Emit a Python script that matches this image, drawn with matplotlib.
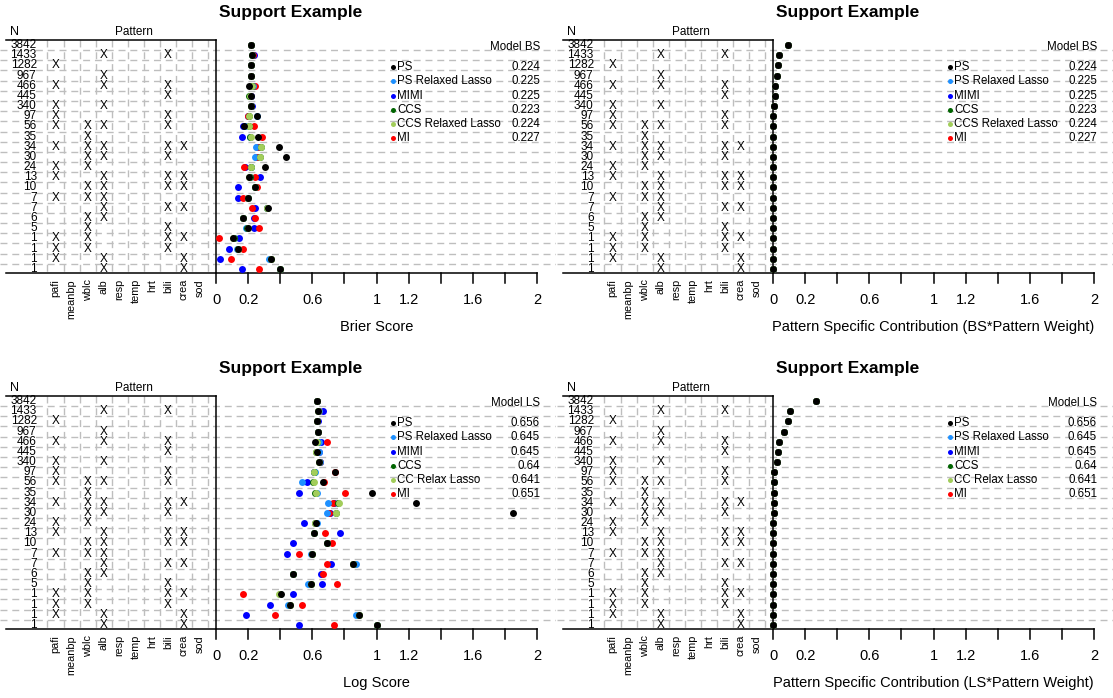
import numpy as np
import matplotlib
matplotlib.use("Agg")
import matplotlib.pyplot as plt

plt.rcParams['font.family'] = ['Liberation Sans', 'DejaVu Sans']

W, H = 1113, 698

# ---- data -----------------------------------------------------------------
n_obs = [3842, 1433, 1282, 967, 466, 445, 340, 97, 56, 35, 34, 30, 24, 13,
         10, 7, 7, 6, 5, 1, 1, 1, 1]
variables = ["pafi", "meanbp", "wblc", "alb", "resp", "temp", "hrt", "bili",
             "crea", "sod"]
missing = [[], ["alb", "bili"], ["pafi"], ["alb"], ["pafi", "alb", "bili"],
           ["bili"], ["pafi", "alb"], ["pafi", "bili"],
           ["pafi", "wblc", "alb", "bili"], ["wblc"],
           ["pafi", "wblc", "alb", "bili", "crea"], ["wblc", "alb", "bili"],
           ["pafi", "wblc"], ["pafi", "alb", "bili", "crea"],
           ["wblc", "alb", "bili", "crea"], ["pafi", "wblc", "alb"],
           ["alb", "bili", "crea"], ["wblc", "alb"], ["wblc", "bili"],
           ["pafi", "wblc", "bili", "crea"], ["pafi", "wblc", "bili"],
           ["pafi", "alb", "crea"], ["alb", "crea"]]

methods_bs = ["PS", "PS Relaxed Lasso", "MIMI", "CCS", "CCS Relaxed Lasso", "MI"]
methods_ls = ["PS", "PS Relaxed Lasso", "MIMI", "CCS", "CC Relax Lasso", "MI"]
colors = ["black", "#1E90FF", "#0000FF", "#006400", "#A2CD5A", "#FF0000"]
model_bs = ["0.224", "0.225", "0.225", "0.223", "0.224", "0.227"]
model_ls = ["0.656", "0.645", "0.645", "0.64", "0.641", "0.651"]

# Brier score by pattern
bs_ps = [0.216, 0.222, 0.216, 0.218, 0.208, 0.216, 0.218, 0.253, 0.177, 0.260, 0.390, 0.438,
         0.307, 0.208, 0.245, 0.199, 0.322, 0.168, 0.199, 0.108, 0.135, 0.345, 0.399]
bs_psrl = [0.216, 0.224, 0.216, 0.218, 0.229, 0.218, 0.220, 0.258, 0.180, 0.212, 0.249, 0.245,
           0.216, 0.210, 0.245, 0.200, 0.318, 0.168, 0.185, 0.112, 0.133, 0.330, 0.399]
bs_mimi = [0.218, 0.237, 0.218, 0.220, 0.229, 0.218, 0.222, 0.198, 0.166, 0.160, 0.258, 0.250,
           0.183, 0.276, 0.139, 0.135, 0.243, 0.237, 0.237, 0.145, 0.079, 0.023, 0.162]
bs_ccs = [0.216, 0.222, 0.216, 0.218, 0.225, 0.206, 0.218, 0.205, 0.205, 0.212, 0.278, 0.272,
          0.216, 0.210, 0.245, 0.200, 0.318, 0.168, 0.195, 0.110, 0.135, 0.340, 0.399]
bs_ccsrl = [0.216, 0.222, 0.216, 0.218, 0.225, 0.214, 0.218, 0.208, 0.208, 0.215, 0.280, 0.274,
            0.216, 0.208, 0.245, 0.199, 0.320, 0.168, 0.199, 0.108, 0.135, 0.343, 0.399]
bs_mi = [0.218, 0.230, 0.218, 0.220, 0.245, 0.218, 0.220, 0.200, 0.239, 0.289, 0.262, 0.255,
         0.177, 0.241, 0.257, 0.166, 0.222, 0.245, 0.268, 0.021, 0.170, 0.092, 0.270]

# Log score by pattern
ls_ps = [0.627, 0.638, 0.627, 0.633, 0.617, 0.631, 0.644, 0.741, 0.669, 0.974, 1.244, 1.848,
         0.620, 0.613, 0.689, 0.596, 0.851, 0.482, 0.592, 0.405, 0.461, 0.891, 1.005]
ls_psrl = [0.627, 0.640, 0.629, 0.633, 0.644, 0.640, 0.646, 0.615, 0.534, 0.631, 0.696, 0.689,
           0.627, 0.613, 0.689, 0.590, 0.872, 0.480, 0.575, 0.400, 0.451, 0.870, 1.000]
ls_mimi = [0.627, 0.669, 0.633, 0.633, 0.652, 0.640, 0.650, 0.613, 0.569, 0.519, 0.737, 0.710,
           0.550, 0.773, 0.482, 0.444, 0.717, 0.652, 0.662, 0.482, 0.336, 0.185, 0.517]
ls_ccs = [0.627, 0.638, 0.627, 0.633, 0.630, 0.621, 0.644, 0.610, 0.605, 0.618, 0.762, 0.745,
          0.615, 0.613, 0.689, 0.596, 0.851, 0.482, 0.592, 0.400, 0.461, 0.891, 1.005]
ls_ccsrl = [0.627, 0.638, 0.627, 0.633, 0.630, 0.625, 0.644, 0.612, 0.611, 0.621, 0.768, 0.748,
            0.617, 0.613, 0.689, 0.596, 0.851, 0.482, 0.592, 0.395, 0.461, 0.891, 1.005]
ls_mi = [0.627, 0.640, 0.629, 0.633, 0.690, 0.635, 0.646, 0.741, 0.672, 0.804, 0.727, 0.705,
         0.620, 0.679, 0.720, 0.519, 0.694, 0.664, 0.752, 0.166, 0.538, 0.368, 0.737]

# pattern specific contribution (score * pattern weight)
bs_weighted = [0.092, 0.035, 0.030, 0.024, 0.011, 0.011, 0.008, 0.002, 0.001, 0.001, 0.001, 0.001,
               0.001, 0.0005, 0.0005, 0.0003, 0.0003, 0.0002, 0.0002, 0.0, 0.0, 0.0, 0.0]
ls_weighted = [0.268, 0.106, 0.092, 0.069, 0.037, 0.033, 0.027, 0.008, 0.007, 0.006, 0.006, 0.006,
               0.003, 0.002, 0.002, 0.001, 0.001, 0.001, 0.001, 0.0, 0.0, 0.0, 0.0]

# ---- layout helpers --------------------------------------------------------
PPU = 160.5        # pixels per x unit
ZERO = 216         # pixel of x = 0 inside a panel
ROW = 10.18        # pixels per row
YTOP, YBOT = -0.49, 22.40
GRAY = "#BEBEBE"
draw_order = [2, 5, 1, 3, 4, 0]

fig = plt.figure(figsize=(W / 100, H / 100), dpi=100)


def rows_from_px(py):
    # panel pixel y -> row coordinate
    return (py - 45) / ROW


def panel(x0, y0, series, methods, model_vals, model_name, xlabel):
    ax = fig.add_axes([x0 / W, 1 - (y0 + 273) / H, 556 / W, 233 / H])
    xmin, xmax = -ZERO / PPU, (556 - ZERO) / PPU
    ax.set_xlim(xmin, xmax)
    ax.set_ylim(YBOT, YTOP)
    ax.axis('off')
    left_edge = (6 - ZERO) / PPU

    # grid
    for i in range(len(n_obs) - 1):
        ax.plot([xmin, xmax], [i + 0.5, i + 0.5], color=GRAY, lw=1,
                ls=(0, (5, 3.5)), zorder=1)
    for k in range(len(variables) + 1):
        xv = -1.05 + 0.1 * k
        ax.plot([xv, xv], [YTOP, YBOT], color=GRAY, lw=1,
                ls=(0, (5, 3.5)), zorder=1)

    # frame
    ax.plot([left_edge, 0], [YTOP, YTOP], color="black", lw=1.1, clip_on=False)
    ax.plot([0, 0], [YTOP, YBOT], color="black", lw=1.1, clip_on=False)
    ax.plot([left_edge, 2], [YBOT, YBOT], color="black", lw=1.1, clip_on=False)
    shown = {0: "0", 0.2: "0.2", 0.6: "0.6", 1.0: "1", 1.2: "1.2", 1.6: "1.6", 2.0: "2"}
    for t in np.round(np.arange(0, 2.01, 0.2), 1):
        ax.plot([t, t], [YBOT, YBOT + 10 / ROW], color="black", lw=1.1,
                clip_on=False)
        if t in shown:
            ax.text(t, YBOT + 27 / ROW, shown[t], ha="center", va="center",
                    fontsize=10.5)

    # pattern table
    for i, n in enumerate(n_obs):
        ax.text(-1.117, i, str(n), ha="right", va="center", fontsize=8.5)
        for v in missing[i]:
            ax.text(-1.0 + 0.1 * variables.index(v), i, "X", ha="center",
                    va="center", fontsize=8.5)
    for j, v in enumerate(variables):
        ax.text(-1.0 + 0.1 * j, YBOT + 6 / ROW, v, rotation=90, ha="center",
                va="top", fontsize=7.8)
    ax.text((10 - ZERO) / PPU, rows_from_px(32), "N", ha="left", va="center",
            fontsize=9)
    ax.text(-0.51, rows_from_px(32), "Pattern", ha="center", va="center",
            fontsize=8.5)

    # points
    yy = np.arange(len(n_obs))
    for m in draw_order:
        ax.plot(series[m], yy, "o", color=colors[m], ms=5, mew=0, zorder=3,
                clip_on=False)

    # legend
    ax.text(2.019, rows_from_px(47), model_name, ha="right", va="center",
            fontsize=8.3)
    for m in range(len(methods)):
        ly = rows_from_px(67.3 + 14.2 * m)
        ax.plot([1.103], [ly], "o", color=colors[m], ms=3.6, mew=0, zorder=4)
        ax.text(1.128, ly, methods[m], ha="left", va="center", fontsize=8.3)
        ax.text(2.019, ly, model_vals[m], ha="right", va="center", fontsize=8.3)

    ax.text(1.0, YBOT + 54 / ROW, xlabel, ha="center", va="center",
            fontsize=10.5)
    ax.text((291 - ZERO) / PPU, rows_from_px(13), "Support Example",
            ha="center", va="center", fontsize=12.5, fontweight="bold")
    return ax


bs_series = [bs_ps, bs_psrl, bs_mimi, bs_ccs, bs_ccsrl, bs_mi]
ls_series = [ls_ps, ls_psrl, ls_mimi, ls_ccs, ls_ccsrl, ls_mi]

panel(0, 0, bs_series, methods_bs, model_bs, "Model BS", "Brier Score")
panel(557, 0, [bs_weighted] * 6, methods_bs, model_bs, "Model BS",
      "Pattern Specific Contribution (BS*Pattern Weight)")
panel(0, 356, ls_series, methods_ls, model_ls, "Model LS", "Log Score")
panel(557, 356, [ls_weighted] * 6, methods_ls, model_ls, "Model LS",
      "Pattern Specific Contribution (LS*Pattern Weight)")

fig.savefig("out.png", dpi=100)
